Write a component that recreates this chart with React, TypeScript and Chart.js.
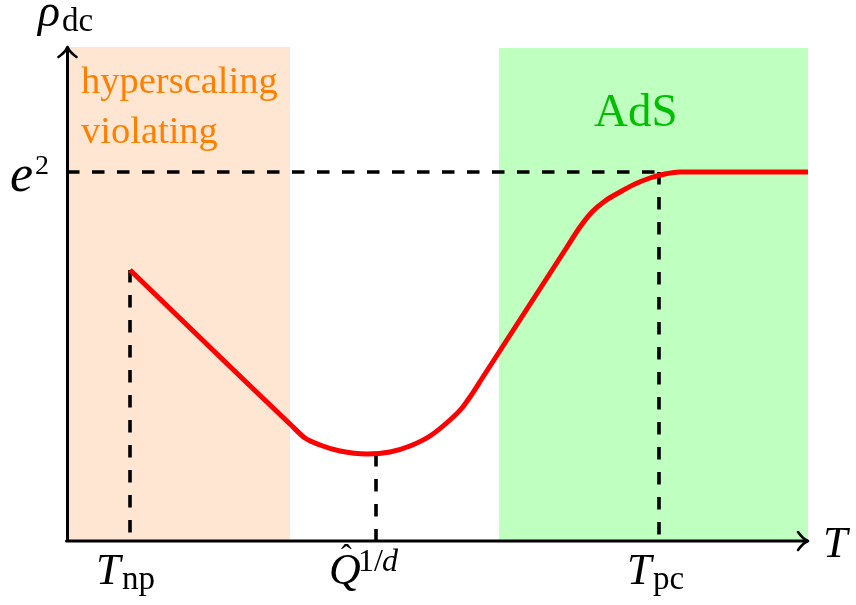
import React, { useEffect, useRef } from "react";
import { Chart, registerables } from "chart.js";

Chart.register(...registerables);

// Data units: horizontal = temperature T, vertical = rho_dc (arbitrary units)
const X_MAX = 7.41;
const Y_MAX = 4.94;

// red curve rho_dc(T)
const curveT = [0.63, 2.23, 2.38, 2.53, 2.73, 3.0, 3.23, 3.43, 3.63, 3.83, 3.95, 4.03, 4.15, 5.0, 5.13, 5.25, 5.38, 5.53, 5.68, 5.83, 5.98, 6.13, 7.41];
const curveRho = [2.71, 1.17, 1.03, 0.96, 0.9, 0.87, 0.89, 0.95, 1.05, 1.21, 1.33, 1.44, 1.625, 2.94, 3.14, 3.29, 3.4, 3.49, 3.57, 3.63, 3.67, 3.69, 3.69];

// marked temperatures
const T_NP = 0.63;
const Q_HAT = 3.09;
const T_PC = 5.92;
const E2 = 3.69;
const RHO_NP = 2.71;
const RHO_MIN = 0.87;

// shaded regimes [from, to]
const hyperRegion = [0, 2.23];
const adsRegion = [4.32, 7.41];

const tickLabels = ["T_np", "Q^1/d", "T_pc"];

const SERIF = '"Liberation Serif", "Times New Roman", serif';

const decorPlugin = {
  id: "decor",
  beforeDatasetsDraw(chart: any) {
    const { ctx, chartArea, scales } = chart;
    const xs = scales.x;
    ctx.save();
    ctx.fillStyle = "rgb(255,230,210)";
    const x0 = xs.getPixelForValue(hyperRegion[0]);
    const x1 = xs.getPixelForValue(hyperRegion[1]);
    ctx.fillRect(x0, chartArea.top, x1 - x0, chartArea.bottom - chartArea.top);
    ctx.fillStyle = "rgb(191,255,191)";
    const g0 = xs.getPixelForValue(adsRegion[0]);
    const g1 = xs.getPixelForValue(adsRegion[1]);
    ctx.fillRect(g0, chartArea.top + 1, g1 - g0, chartArea.bottom - chartArea.top - 1);
    ctx.restore();
  },
  afterDraw(chart: any) {
    const { ctx, chartArea } = chart;
    const L = chartArea.left + 0.5;
    const B = chartArea.bottom;
    const T = chartArea.top;
    const R = chartArea.right;
    ctx.save();
    ctx.strokeStyle = "#000";
    ctx.lineWidth = 3;
    ctx.lineCap = "round";
    ctx.lineJoin = "round";
    // axes
    ctx.beginPath();
    ctx.moveTo(L, B);
    ctx.lineTo(L, T + 1);
    ctx.moveTo(L - 1, B);
    ctx.lineTo(R - 1, B);
    ctx.stroke();
    // arrow heads
    ctx.lineWidth = 2.6;
    ctx.beginPath();
    ctx.moveTo(L - 9, T + 10);
    ctx.quadraticCurveTo(L - 2, T + 5, L, T);
    ctx.quadraticCurveTo(L + 2, T + 5, L + 9, T + 10);
    ctx.moveTo(R - 10, B - 9);
    ctx.quadraticCurveTo(R - 5, B - 2, R, B);
    ctx.quadraticCurveTo(R - 5, B + 2, R - 10, B + 9);
    ctx.stroke();

    // labels
    ctx.fillStyle = "#000";
    ctx.textAlign = "left";
    ctx.textBaseline = "alphabetic";
    // rho_dc
    ctx.font = `italic 46px ${SERIF}`;
    ctx.fillText("ρ", 38, 26);
    ctx.font = `33px ${SERIF}`;
    ctx.fillText("dc", 62, 31);
    // e^2
    ctx.font = `italic 52px ${SERIF}`;
    ctx.fillText("e", 10, 191);
    ctx.font = `28px ${SERIF}`;
    ctx.fillText("2", 35, 174);
    // T axis
    ctx.font = `italic 44px ${SERIF}`;
    ctx.fillText("T", 823, 557);
    // T_np
    ctx.font = `italic 44px ${SERIF}`;
    ctx.fillText("T", 96, 584);
    ctx.font = `33px ${SERIF}`;
    ctx.fillText("np", 122, 589);
    // Q hat ^{1/d}
    ctx.font = `italic 44px ${SERIF}`;
    ctx.fillText("Q", 329, 584);
    ctx.font = `32px ${SERIF}`;
    ctx.fillText("ˆ", 341, 566);
    ctx.font = `32px ${SERIF}`;
    ctx.fillText("1/", 358, 571);
    ctx.font = `italic 32px ${SERIF}`;
    ctx.fillText("d", 382, 571);
    // T_pc
    ctx.font = `italic 44px ${SERIF}`;
    ctx.fillText("T", 627, 584);
    ctx.font = `33px ${SERIF}`;
    ctx.fillText("pc", 653, 589);

    // regime labels
    ctx.fillStyle = "rgb(255,128,0)";
    ctx.font = `38.5px ${SERIF}`;
    ctx.fillText("hyperscaling", 81, 93);
    ctx.fillText("violating", 81, 143);
    ctx.fillStyle = "rgb(0,191,0)";
    ctx.font = `47px ${SERIF}`;
    ctx.fillText("AdS", 594, 126);
    ctx.restore();
  },
};

export default function App() {
  const ref = useRef<HTMLCanvasElement | null>(null);
  useEffect(() => {
    if (!ref.current) return;
    const dash = [12.5, 12.5];
    const dashStyle = {
      borderColor: "#000",
      borderWidth: 3.6,
      borderDash: dash,
      pointRadius: 0,
      showLine: true,
      tension: 0,
      order: 2,
    };
    const chart = new Chart(ref.current, {
      type: "scatter",
      data: {
        datasets: [
          {
            label: "rho_dc",
            data: curveT.map((t, i) => ({ x: t, y: curveRho[i] })),
            borderColor: "rgb(255,0,0)",
            borderWidth: 5,
            pointRadius: 0,
            showLine: true,
            cubicInterpolationMode: "monotone",
            borderJoinStyle: "round",
            order: 0,
          } as any,
          { label: "e2", data: [{ x: 0, y: E2 }, { x: T_PC, y: E2 }], ...dashStyle } as any,
          { label: tickLabels[0], data: [{ x: T_NP, y: RHO_NP }, { x: T_NP, y: 0 }], ...dashStyle } as any,
          { label: tickLabels[1], data: [{ x: Q_HAT, y: RHO_MIN }, { x: Q_HAT, y: 0 }], ...dashStyle } as any,
          { label: tickLabels[2], data: [{ x: T_PC, y: E2 }, { x: T_PC, y: 0 }], ...dashStyle } as any,
        ],
      },
      options: {
        animation: false,
        responsive: false,
        devicePixelRatio: 1,
        layout: { padding: { left: 67, right: 48, top: 47, bottom: 64 } },
        plugins: { legend: { display: false }, tooltip: { enabled: false } },
        scales: {
          x: { type: "linear", min: 0, max: X_MAX, display: false },
          y: { type: "linear", min: 0, max: Y_MAX, display: false },
        },
      },
      plugins: [decorPlugin],
    });
    return () => chart.destroy();
  }, []);
  return (
    <div style={{ position: "absolute", left: 0, top: 0, width: 856, height: 605, background: "#fff" }}>
      <canvas ref={ref} width={856} height={605} style={{ width: 856, height: 605 }} />
    </div>
  );
}
